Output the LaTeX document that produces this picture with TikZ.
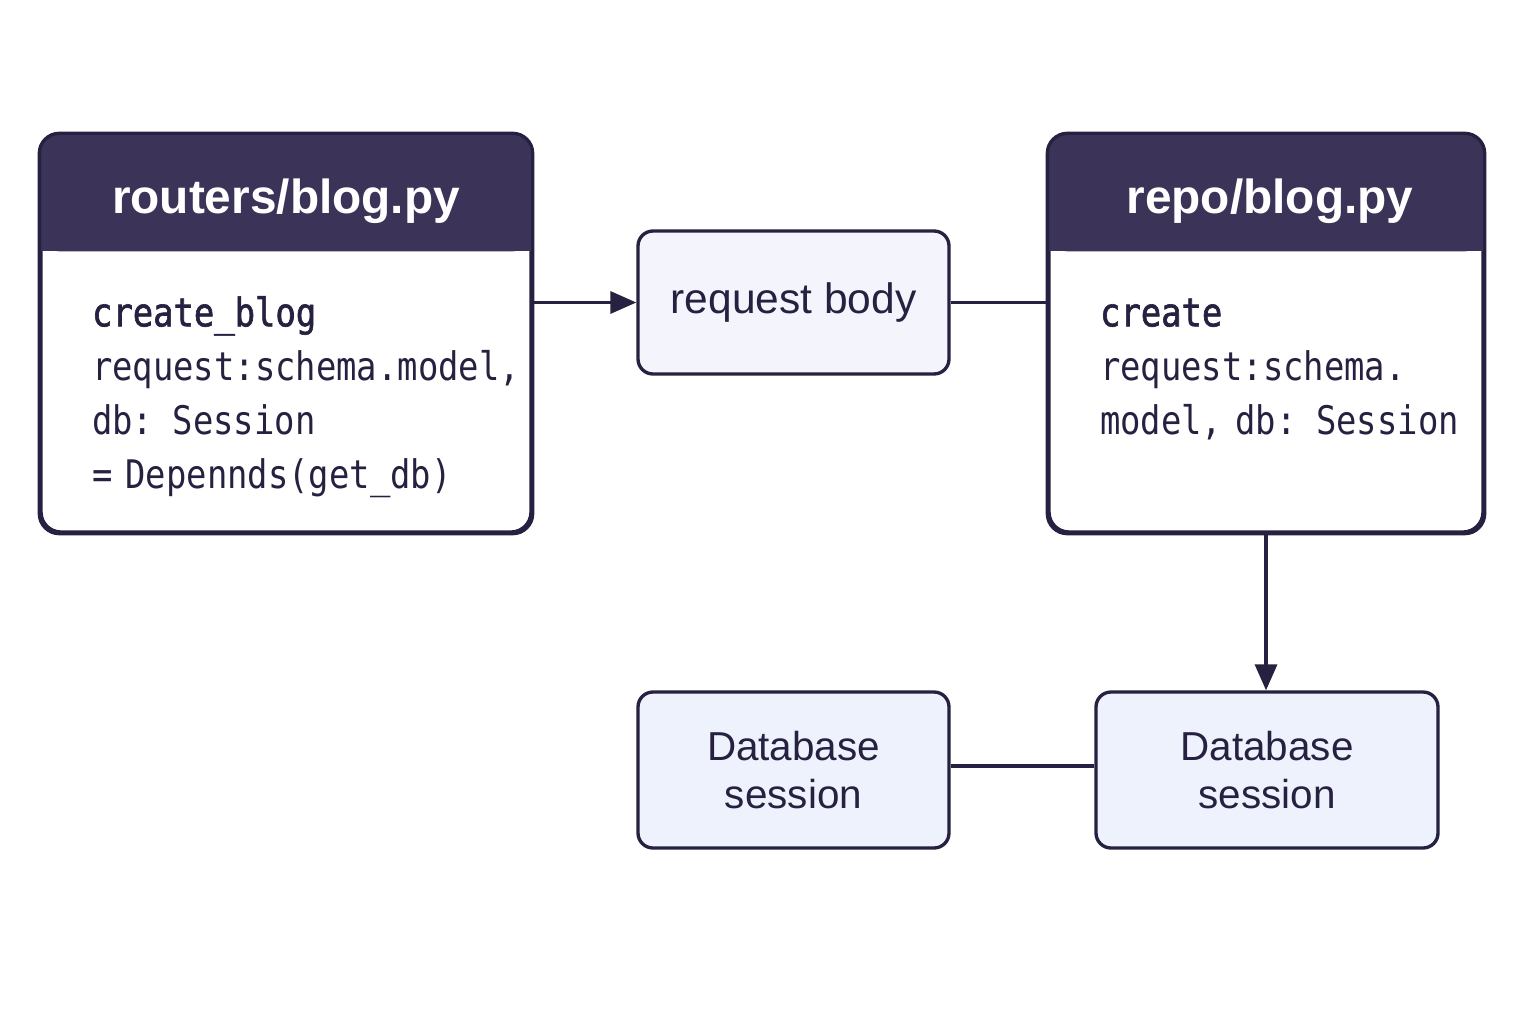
\documentclass[tikz,border=0pt]{standalone}
\usepackage{fontspec}
\setmainfont{Liberation Sans}
\newfontfamily\codefont[FakeStretch=0.86]{DejaVu Sans Mono}
\newfontfamily\codebold[FakeStretch=0.86,FakeBold=1.6]{DejaVu Sans Mono}
\usetikzlibrary{arrows.meta,positioning}

\definecolor{navy}{RGB}{59,51,88}
\definecolor{ink}{RGB}{38,33,64}
\definecolor{bodyfill}{RGB}{244,244,253}
\definecolor{dbfill}{RGB}{238,242,252}

\tikzset{
  filebox/.style={draw=ink, line width=0.95pt, rounded corners=0.2cm, fill=white, inner sep=0pt, minimum height=3.97cm},
  smallbox/.style={draw=ink, line width=0.95pt, rounded corners=0.15cm, align=center, text=ink},
  title/.style={text=white, font=\fontsize{13.6}{16}\selectfont\bfseries, inner sep=0pt},
  code/.style={text=ink, font=\codefont\fontsize{11.2}{15.4}\selectfont, text width=4.5cm, align=left, inner sep=0pt},
  link/.style={draw=ink, line width=0.95pt},
  arrow/.style={link, -{Triangle[length=0.26cm,width=0.22cm]}}
}

\begin{document}
\begin{tikzpicture}
    \useasboundingbox (0,0) rectangle (15.36,10.24);
    \fill[white] (0,0) rectangle (15.36,10.24);

    % the two files
    \node[filebox, minimum width=4.9cm] (router) at (2.86,6.905) {};
    \node[filebox, minimum width=4.34cm] (repo) at (12.66,6.905) {};

    \foreach \f in {router,repo} {
        \fill[navy, rounded corners=0.2cm] (\f.north west) rectangle ([yshift=-1.18cm]\f.north east);
        \fill[navy] ([yshift=-0.6cm]\f.north west) rectangle ([yshift=-1.18cm]\f.north east);
        \draw[ink, line width=0.95pt, rounded corners=0.2cm] (\f.north west) rectangle (\f.south east);
    }

    \node[title, anchor=base] (routerTitle) at ([yshift=-0.8cm]router.north) {routers/blog.py};
    \node[title, anchor=base] (repoTitle) at ([xshift=0.04cm,yshift=-0.8cm]repo.north) {repo/blog.py};

    \node[code, anchor=base west] (routerCode) at ([xshift=0.52cm,yshift=-1.93cm]router.north west)
        {{\codebold create\_blog}\\ request:schema.model,\\ db: Session\\ = Depennds(get\_db)};
    \node[code, anchor=base west] (repoCode) at ([xshift=0.52cm,yshift=-1.93cm]repo.north west)
        {{\codebold create}\\ request:schema.\\ model, db: Session};

    % small boxes
    \node[smallbox, fill=bodyfill, minimum width=3.11cm, minimum height=1.43cm,
          font=\fontsize{12.1}{14}\selectfont] (body) at (7.935,7.215) {request body};
    \node[smallbox, fill=dbfill, minimum width=3.42cm, minimum height=1.56cm,
          font=\fontsize{11.5}{13.4}\selectfont] (dbRepo) at (12.67,2.54) {Database\\session};
    \node[smallbox, fill=dbfill, minimum width=3.11cm, minimum height=1.56cm,
          font=\fontsize{11.5}{13.4}\selectfont] (dbLeft) at (7.935,2.54) {Database\\session};

    % connectors
    \draw[arrow] (router.east |- body.west) -- (body.west);
    \draw[link] (body.east) -- (repo.west |- body.east);
    \draw[arrow] (repo.south) -- (repo.south |- dbRepo.north);
    \draw[link] ([yshift=0.04cm]dbLeft.east) -- ([yshift=0.04cm]dbRepo.west);
\end{tikzpicture}
\end{document}
